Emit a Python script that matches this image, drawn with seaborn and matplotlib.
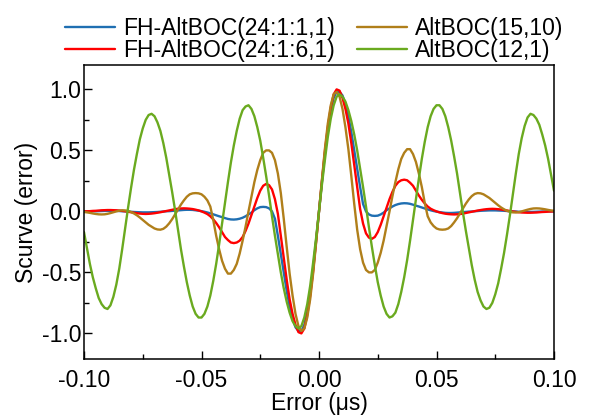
import numpy as np
import pandas as pd
import matplotlib
matplotlib.use("Agg")
import matplotlib.pyplot as plt
import seaborn as sns
from matplotlib.ticker import MultipleLocator, FormatStrFormatter

# ---- data ----
# sampling positions of the error axis (µs), -0.1 ... 0.1
error_us = [round(-0.1 + 0.00125 * i, 5) for i in range(161)]

fh_24_1_1 = [
    0.0, 0.0, 0.0, 0.001, 0.001, 0.002, 0.003, 0.004, 0.004, 0.004,
    0.004, 0.004, 0.003, 0.001, 0.0, -0.001, -0.003, -0.005, -0.006, -0.007,
    -0.008, -0.008, -0.008, -0.007, -0.006, -0.005, -0.003, -0.001, 0.001, 0.002,
    0.004, 0.006, 0.008, 0.01, 0.012, 0.013, 0.013, 0.012, 0.009, 0.006,
    0.002, -0.003, -0.009, -0.016, -0.024, -0.032, -0.04, -0.047, -0.055, -0.062,
    -0.066, -0.067, -0.065, -0.06, -0.052, -0.04, -0.025, -0.01, 0.01, 0.025,
    0.035, 0.037, 0.035, 0.025, 0.0, -0.06, -0.20, -0.35, -0.50, -0.65,
    -0.78, -0.88, -0.95, -0.98, -0.98, -0.93, -0.82, -0.67, -0.47, -0.24,
    0.00,
    0.24, 0.47, 0.67, 0.82, 0.93, 0.98, 0.98, 0.95, 0.88,
    0.78, 0.65, 0.50, 0.35, 0.20, 0.06, 0.0, -0.025, -0.035, -0.037,
    -0.035, -0.025, -0.01, 0.01, 0.025, 0.04, 0.052, 0.06, 0.065, 0.067,
    0.066, 0.062, 0.055, 0.047, 0.04, 0.032, 0.024, 0.016, 0.009, 0.003,
    -0.002, -0.006, -0.009, -0.012, -0.013, -0.013, -0.012, -0.01, -0.008, -0.006,
    -0.004, -0.002, -0.001, 0.001, 0.003, 0.005, 0.006, 0.007, 0.008, 0.008,
    0.008, 0.007, 0.006, 0.005, 0.003, 0.001, 0.0, -0.001, -0.003, -0.004,
    -0.004, -0.004, -0.004, -0.004, -0.003, -0.002, -0.001, -0.001, 0.0, 0.0,
    0.0,
]

fh_24_1_6 = [
    0.0, 0.001, 0.002, 0.004, 0.005, 0.007, 0.009, 0.01, 0.011, 0.011,
    0.01, 0.009, 0.007, 0.004, 0.001, -0.003, -0.007, -0.011, -0.015, -0.018,
    -0.02, -0.021, -0.02, -0.018, -0.015, -0.011, -0.007, -0.002, 0.003, 0.008,
    0.013, 0.018, 0.022, 0.024, 0.025, 0.024, 0.022, 0.019, 0.014, 0.008,
    0.0, -0.01, -0.022, -0.04, -0.065, -0.095, -0.13, -0.17, -0.21, -0.235,
    -0.255, -0.26, -0.255, -0.24, -0.21, -0.16, -0.10, -0.03, 0.04, 0.11,
    0.17, 0.21, 0.225, 0.215, 0.18, 0.10, -0.02, -0.20, -0.38, -0.56,
    -0.72, -0.84, -0.93, -0.99, -1.00, -0.96, -0.85, -0.69, -0.49, -0.25,
    0.00,
    0.25, 0.49, 0.69, 0.85, 0.96, 1.00, 0.99, 0.93, 0.84,
    0.72, 0.56, 0.38, 0.20, 0.02, -0.10, -0.18, -0.215, -0.225, -0.21,
    -0.17, -0.11, -0.04, 0.03, 0.10, 0.16, 0.21, 0.24, 0.255, 0.26,
    0.255, 0.235, 0.21, 0.17, 0.13, 0.095, 0.065, 0.04, 0.022, 0.01,
    0.0, -0.008, -0.014, -0.019, -0.022, -0.024, -0.025, -0.024, -0.022, -0.018,
    -0.013, -0.008, -0.003, 0.002, 0.007, 0.011, 0.015, 0.018, 0.02, 0.021,
    0.02, 0.018, 0.015, 0.011, 0.007, 0.003, -0.001, -0.004, -0.007, -0.009,
    -0.01, -0.011, -0.011, -0.01, -0.009, -0.007, -0.005, -0.004, -0.002, -0.001,
    0.0,
]

altboc_15_10 = [
    -0.005, -0.008, -0.012, -0.017, -0.021, -0.024, -0.025, -0.024, -0.02, -0.014,
    -0.007, 0.0, 0.006, 0.009, 0.008, 0.004, -0.005, -0.017, -0.032, -0.05,
    -0.07, -0.09, -0.11, -0.125, -0.14, -0.148, -0.15, -0.143, -0.125, -0.098,
    -0.064, -0.025, 0.016, 0.056, 0.09, 0.12, 0.14, 0.148, 0.15, 0.148,
    0.14, 0.12, 0.09, 0.04, -0.07, -0.20, -0.31, -0.405, -0.47, -0.51,
    -0.51, -0.48, -0.43, -0.345, -0.24, -0.125, 0.00, 0.12, 0.24, 0.34,
    0.42, 0.48, 0.50, 0.50, 0.48, 0.42, 0.31, 0.15, -0.06, -0.29,
    -0.51, -0.69, -0.84, -0.94, -0.98, -0.96, -0.87, -0.72, -0.51, -0.26,
    0.00,
    0.26, 0.51, 0.72, 0.87, 0.96, 0.98, 0.94, 0.84, 0.69,
    0.51, 0.29, 0.06, -0.15, -0.31, -0.42, -0.48, -0.50, -0.50, -0.48,
    -0.42, -0.34, -0.24, -0.12, 0.00, 0.125, 0.24, 0.345, 0.43, 0.48,
    0.51, 0.51, 0.47, 0.405, 0.31, 0.20, 0.07, -0.04, -0.09, -0.12,
    -0.14, -0.148, -0.15, -0.148, -0.14, -0.12, -0.09, -0.056, -0.016, 0.025,
    0.064, 0.098, 0.125, 0.143, 0.15, 0.148, 0.14, 0.125, 0.11, 0.09,
    0.07, 0.05, 0.032, 0.017, 0.005, -0.004, -0.008, -0.009, -0.006, 0.0,
    0.007, 0.014, 0.02, 0.024, 0.025, 0.024, 0.021, 0.017, 0.012, 0.008,
    0.005,
]

altboc_12_1 = [
    -0.17, -0.30, -0.43, -0.54, -0.63, -0.71, -0.76, -0.79, -0.80, -0.77,
    -0.70, -0.60, -0.47, -0.31, -0.14, 0.03, 0.19, 0.34, 0.47, 0.59,
    0.68, 0.75, 0.79, 0.80, 0.78, 0.73, 0.66, 0.56, 0.44, 0.30,
    0.16, 0.01, -0.15, -0.31, -0.45, -0.58, -0.69, -0.78, -0.84, -0.87,
    -0.87, -0.84, -0.78, -0.69, -0.57, -0.43, -0.27, -0.10, 0.07, 0.24,
    0.40, 0.54, 0.66, 0.76, 0.83, 0.86, 0.87, 0.84, 0.78, 0.69,
    0.58, 0.44, 0.29, 0.13, -0.04, -0.20, -0.35, -0.50, -0.63, -0.74,
    -0.83, -0.90, -0.94, -0.96, -0.94, -0.87, -0.76, -0.61, -0.42, -0.22,
    0.00,
    0.22, 0.42, 0.61, 0.76, 0.87, 0.94, 0.96, 0.94, 0.90,
    0.83, 0.74, 0.63, 0.50, 0.35, 0.20, 0.04, -0.13, -0.29, -0.44,
    -0.58, -0.69, -0.78, -0.84, -0.87, -0.86, -0.83, -0.76, -0.66, -0.54,
    -0.40, -0.24, -0.07, 0.10, 0.27, 0.43, 0.57, 0.69, 0.78, 0.84,
    0.87, 0.87, 0.84, 0.78, 0.69, 0.58, 0.45, 0.31, 0.15, -0.01,
    -0.16, -0.30, -0.44, -0.56, -0.66, -0.73, -0.78, -0.80, -0.79, -0.75,
    -0.68, -0.59, -0.47, -0.34, -0.19, -0.03, 0.14, 0.31, 0.47, 0.60,
    0.70, 0.77, 0.80, 0.79, 0.76, 0.71, 0.63, 0.54, 0.43, 0.30,
    0.17,
]

series_names = ["FH-AltBOC(24:1:1,1)", "FH-AltBOC(24:1:6,1)", "AltBOC(15,10)", "AltBOC(12,1)"]
series_values = [fh_24_1_1, fh_24_1_6, altboc_15_10, altboc_12_1]
series_colors = ["#1f6fb2", "#ff0000", "#b07f1a", "#6aaa1f"]

x_ticks = [-0.10, -0.05, 0.00, 0.05, 0.10]
y_ticks = [-1.0, -0.5, 0.0, 0.5, 1.0]

# ---- style ----
sns.set_theme(style="ticks")
plt.rcParams.update({
    "font.family": ["Liberation Sans", "DejaVu Sans"],
    "axes.unicode_minus": False,
    "axes.edgecolor": "black",
    "xtick.color": "black",
    "ytick.color": "black",
    "text.color": "black",
    "axes.labelcolor": "black",
})

FS = 16.5

fig = plt.figure(figsize=(5.89, 4.19), dpi=100)
ax = fig.add_axes([84 / 589, 1 - 359 / 419, 470 / 589, 294 / 419])

frames = []
for name, vals in zip(series_names, series_values):
    frames.append(pd.DataFrame({"Error": error_us, "S": vals, "series": name}))
df = pd.concat(frames, ignore_index=True)

for name, color in zip(series_names, series_colors):
    sub = df[df["series"] == name]
    sns.lineplot(data=sub, x="Error", y="S", color=color, lw=1.7,
                 label=name, ax=ax, sort=False, legend=False)

ax.set_xlim(-0.1, 0.1)
ax.set_ylim(-1.21, 1.2)
ax.set_xticks(x_ticks)
ax.set_yticks(y_ticks)
ax.xaxis.set_minor_locator(MultipleLocator(0.025))
ax.yaxis.set_minor_locator(MultipleLocator(0.25))
ax.xaxis.set_major_formatter(FormatStrFormatter("%.2f"))
ax.yaxis.set_major_formatter(FormatStrFormatter("%.1f"))
ax.tick_params(which="both", direction="in", top=False, right=False,
               labelsize=FS, width=1.0)
ax.tick_params(which="major", length=6)
ax.tick_params(which="minor", length=3.5)
ax.tick_params(axis="x", pad=7)
ax.tick_params(axis="y", pad=2)
for sp in ax.spines.values():
    sp.set_visible(True)
    sp.set_color("black")
    sp.set_linewidth(1.1)

ax.set_xlabel("Error (μs)", fontsize=FS, labelpad=0)
ax.set_ylabel("Scurve (error)", fontsize=FS, labelpad=3)
ax.grid(False)

handles = ax.get_lines()[:4]
fig.legend(handles, series_names, ncol=2, loc="center",
           bbox_to_anchor=(314 / 589, 1 - 39.5 / 419), frameon=False,
           fontsize=FS, handlelength=2.2, handletextpad=0.35,
           columnspacing=0.95, labelspacing=-0.08, borderpad=0)

fig.savefig("out.png", dpi=100)
